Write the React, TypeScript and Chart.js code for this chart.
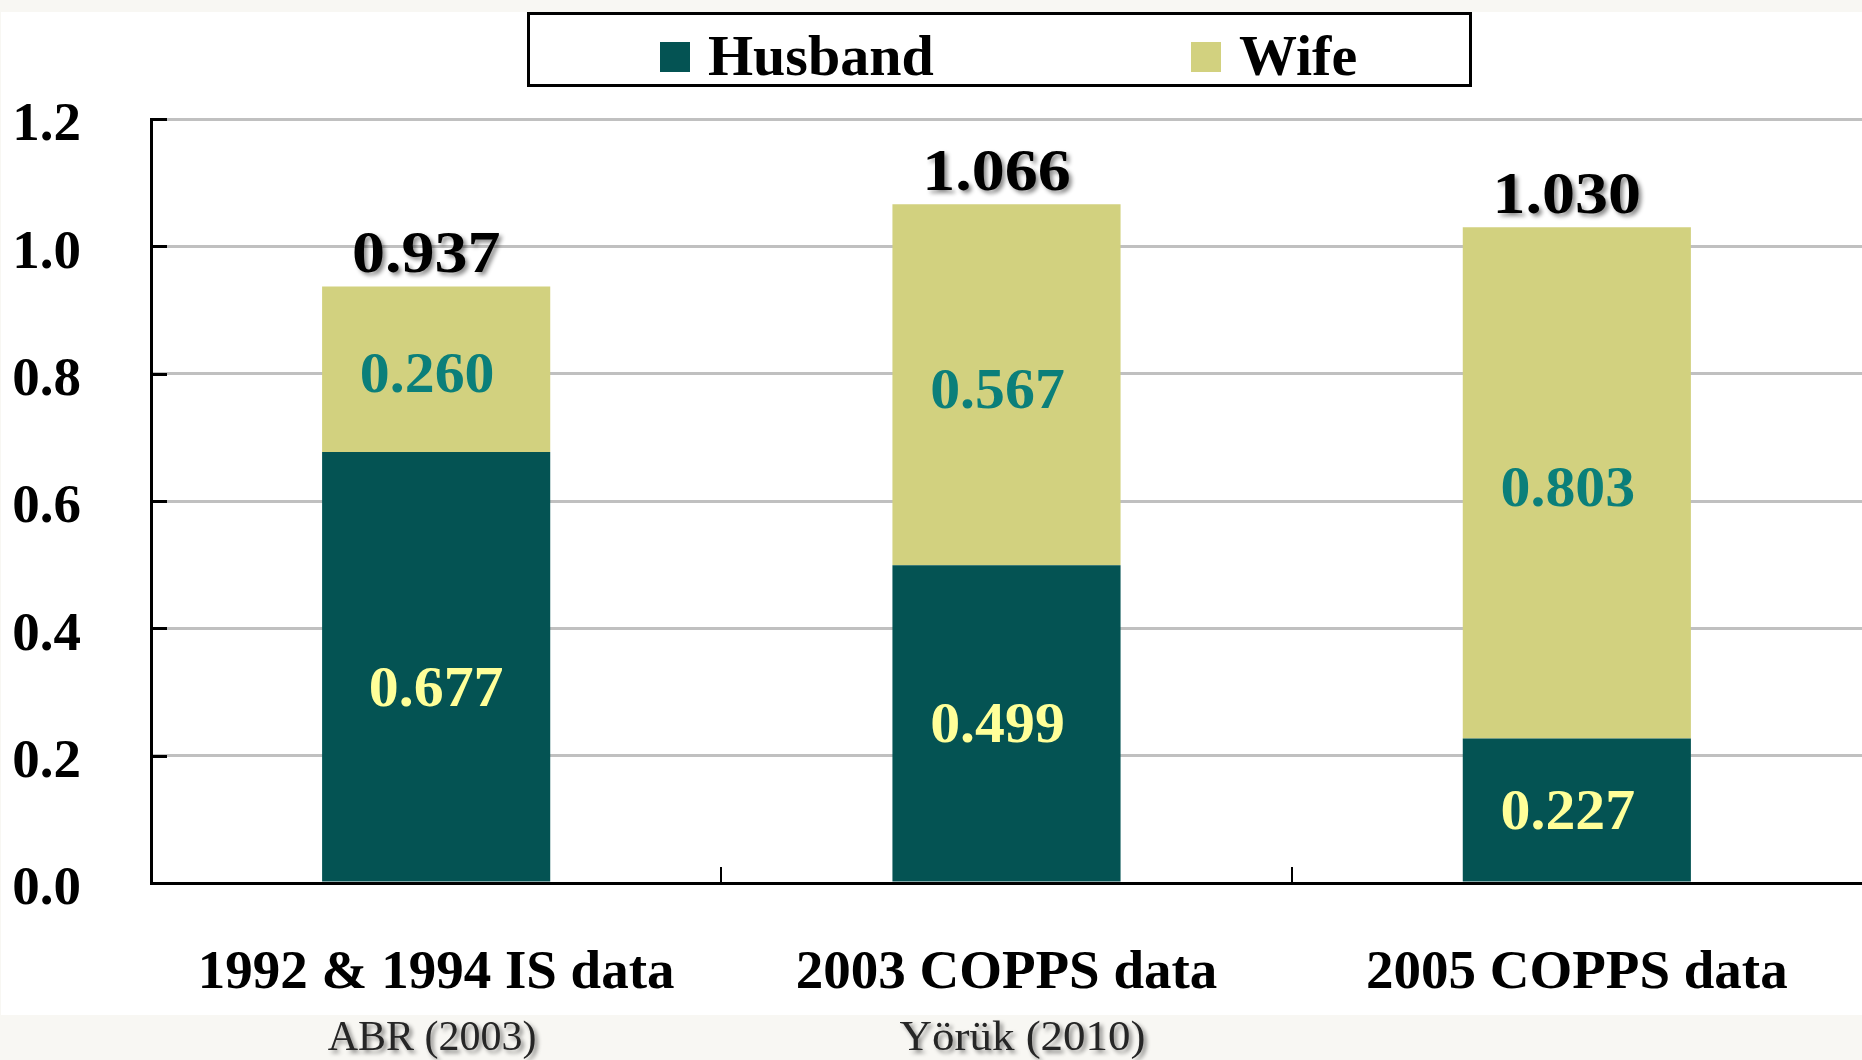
import React, { useEffect, useRef } from "react";
import { Chart, registerables } from "chart.js";

Chart.register(...registerables);

// ---- data ----
const categories = ["1992 & 1994 IS data", "2003 COPPS data", "2005 COPPS data"];
const citations = ["ABR (2003)", "Yörük (2010)", ""];
const seriesNames = ["Husband", "Wife"];
const husbandValues = [0.677, 0.499, 0.227];
const wifeValues = [0.26, 0.567, 0.803];
const yTickValues = [0, 0.2, 0.4, 0.6, 0.8, 1.0, 1.2];

// ---- styles ----
const HUSBAND_COLOR = "#045353";
const WIFE_COLOR = "#D2D17F";
const HUSBAND_LABEL_COLOR = "#FFFF99";
const WIFE_LABEL_COLOR = "#0B7F7A";
const SERIF = '"Liberation Serif", "Times New Roman", serif';
// per-label nudges (style only): [dataset][category] => [dx, dy]
const labelNudges = [
  [[0, 25], [-9, 4], [-9, 4]],
  [[-9, 8], [-9, 8], [-9, 8]],
];

function drawText(
  ctx: CanvasRenderingContext2D,
  text: string,
  x: number,
  y: number,
  font: string,
  color: string,
  opts: { scaleX?: number; baseline?: CanvasTextBaseline; shadow?: boolean; align?: CanvasTextAlign } = {}
) {
  ctx.save();
  ctx.font = font;
  ctx.fillStyle = color;
  ctx.textAlign = opts.align || "center";
  ctx.textBaseline = opts.baseline || "alphabetic";
  if (opts.shadow) {
    ctx.shadowColor = "rgba(0,0,0,0.45)";
    ctx.shadowBlur = 4;
    ctx.shadowOffsetX = 3;
    ctx.shadowOffsetY = 3;
  }
  ctx.translate(x, y);
  ctx.scale(opts.scaleX || 1, 1);
  ctx.fillText(text, 0, 0);
  ctx.restore();
}

const decorPlugin = {
  id: "decor",
  beforeDraw(chart: any) {
    const ctx: CanvasRenderingContext2D = chart.ctx;
    const { width, height } = chart;
    ctx.save();
    ctx.fillStyle = "#F8F7F3";
    ctx.fillRect(0, 0, width, height);
    ctx.fillStyle = "#FFFFFF";
    ctx.fillRect(1, 12, width - 1, 1015 - 12);
    ctx.restore();
  },
  afterDraw(chart: any) {
    const ctx: CanvasRenderingContext2D = chart.ctx;
    const xs = chart.scales.x;
    const ys = chart.scales.y;
    const area = chart.chartArea;

    // inner tick marks
    ctx.save();
    ctx.strokeStyle = "#000";
    ctx.lineWidth = 3;
    ys.ticks.forEach((_t: any, i: number) => {
      const py = Math.round(ys.getPixelForTick(i)) + 0.5;
      ctx.beginPath();
      ctx.moveTo(area.left, py);
      ctx.lineTo(area.left + 16, py);
      ctx.stroke();
    });
    ctx.lineWidth = 2;
    for (let i = 1; i < categories.length; i++) {
      const px = Math.round((xs.getPixelForTick(i - 1) + xs.getPixelForTick(i)) / 2);
      ctx.beginPath();
      ctx.moveTo(px, area.bottom);
      ctx.lineTo(px, area.bottom - 16);
      ctx.stroke();
    }
    ctx.restore();

    // segment labels
    const labelColors = [HUSBAND_LABEL_COLOR, WIFE_LABEL_COLOR];
    chart.data.datasets.forEach((ds: any, di: number) => {
      const meta = chart.getDatasetMeta(di);
      meta.data.forEach((bar: any, j: number) => {
        const p = bar.getProps(["x", "y", "base"], true);
        const [dx, dy] = labelNudges[di][j];
        drawText(
          ctx,
          Number(ds.data[j]).toFixed(3),
          p.x + dx,
          (p.y + p.base) / 2 + dy,
          `bold 57px ${SERIF}`,
          labelColors[di],
          { baseline: "middle", scaleX: 1.05 }
        );
      });
    });

    // totals
    const topMeta = chart.getDatasetMeta(chart.data.datasets.length - 1);
    topMeta.data.forEach((bar: any, j: number) => {
      const total = chart.data.datasets.reduce((s: number, ds: any) => s + Number(ds.data[j]), 0);
      const p = bar.getProps(["x", "y"], true);
      drawText(ctx, total.toFixed(3), p.x - 10, p.y - 14, `bold 60px ${SERIF}`, "#000", { scaleX: 1.1, shadow: true });
    });

    // citations
    citations.forEach((c, j) => {
      if (!c) return;
      drawText(ctx, c, xs.getPixelForTick(j) + (j === 1 ? 16 : -4), 1050, `42px ${SERIF}`, "#262626", {
        shadow: true,
        scaleX: j === 1 ? 1.07 : 1,
      });
    });

    // legend
    ctx.save();
    ctx.strokeStyle = "#000";
    ctx.lineWidth = 3;
    ctx.strokeRect(528.5, 13.5, 942, 72);
    ctx.restore();
    const itemX = [660, 1191];
    chart.data.datasets.forEach((ds: any, di: number) => {
      ctx.save();
      ctx.fillStyle = ds.backgroundColor;
      ctx.fillRect(itemX[di], 42, 30, 30);
      ctx.restore();
      drawText(ctx, ds.label, itemX[di] + 48, 75, `bold 58px ${SERIF}`, "#000", { align: "left" });
    });
  },
};

export default function App() {
  const ref = useRef<HTMLCanvasElement>(null);
  useEffect(() => {
    document.body.style.margin = "0";
    const chart = new Chart(ref.current as HTMLCanvasElement, {
      type: "bar",
      data: {
        labels: categories,
        datasets: [
          { label: seriesNames[0], data: husbandValues, backgroundColor: HUSBAND_COLOR, borderWidth: 0 },
          { label: seriesNames[1], data: wifeValues, backgroundColor: WIFE_COLOR, borderWidth: 0 },
        ],
      },
      options: {
        responsive: false,
        animation: false,
        layout: { padding: { top: 119, left: 0, right: 0, bottom: 0 } },
        datasets: { bar: { barPercentage: 0.4, categoryPercentage: 1 } },
        plugins: { legend: { display: false }, tooltip: { enabled: false } },
        scales: {
          x: {
            stacked: true,
            grid: { display: false, drawTicks: false },
            border: { display: true, color: "#000", width: 3 },
            ticks: { color: "#000", font: { family: SERIF, size: 55, weight: "bold" }, padding: 58, maxRotation: 0 },
            afterFit: (s: any) => {
              s.height = 177;
            },
          },
          y: {
            stacked: true,
            min: 0,
            max: 1.2,
            afterBuildTicks: (s: any) => {
              s.ticks = yTickValues.map((v) => ({ value: v }));
            },
            grid: { color: "#C0C0C0", lineWidth: 3, drawTicks: false },
            border: { display: true, color: "#000", width: 3 },
            ticks: {
              color: "#000",
              font: { family: SERIF, size: 55, weight: "bold" },
              padding: 70,
              labelOffset: 7,
              callback: (v: any) => Number(v).toFixed(1),
            },
            afterFit: (s: any) => {
              s.width = 151;
            },
          },
        },
      },
      plugins: [decorPlugin],
    } as any);
    return () => chart.destroy();
  }, []);
  return (
    <div style={{ position: "absolute", left: 0, top: 0, width: 1862, height: 1060 }}>
      <canvas ref={ref} width={1862} height={1060} style={{ width: 1862, height: 1060, display: "block" }} />
    </div>
  );
}
